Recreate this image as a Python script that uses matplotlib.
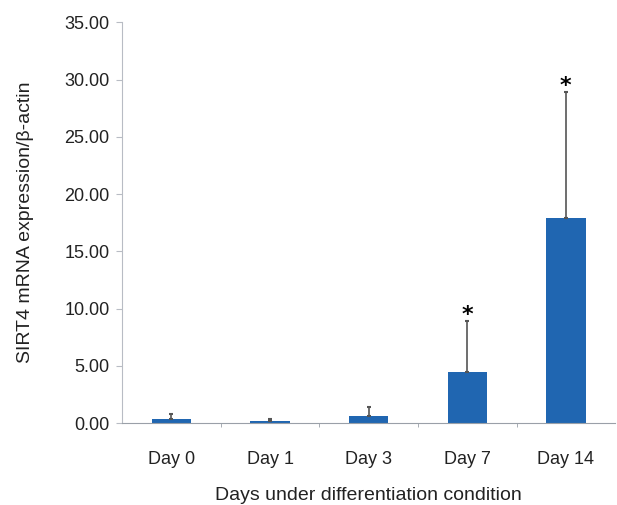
import matplotlib.pyplot as plt
import numpy as np

# data
days = ["Day 0", "Day 1", "Day 3", "Day 7", "Day 14"]
expression = [0.35, 0.2, 0.6, 4.5, 17.9]
upper_err = [0.45, 0.2, 0.8, 4.4, 11.0]
significant = [False, False, False, True, True]

plt.rcParams['font.family'] = ['Liberation Sans', 'DejaVu Sans']

fig = plt.figure(figsize=(6.17, 5.05), dpi=100)
ax = fig.add_axes([0.198, 0.162, 0.799, 0.794])

x = np.arange(len(days))
ax.bar(x, expression, width=0.4, color='#2066b1', zorder=2)
ax.errorbar(x, expression, yerr=[np.zeros(len(days)), upper_err], fmt='none',
            ecolor='#555555', elinewidth=1.2, capsize=1.5, capthick=1.5, zorder=3)

# asterisks over the significant days
for i in range(len(days)):
    if significant[i]:
        ax.text(x[i], expression[i] + upper_err[i] - 0.3, '*', ha='center', va='bottom',
                fontsize=16, fontweight='bold', color='black', family='DejaVu Sans')

ax.set_xlim(-0.5, 4.5)
ax.set_ylim(0, 35)
ax.set_yticks(np.arange(0, 36, 5))
ax.set_yticklabels([f"{v:.2f}" for v in np.arange(0, 36, 5)])
ax.set_xticks(x)
ax.set_xticklabels(days)
ax.set_xticks(np.arange(0.5, 4.5, 1), minor=True)

ax.spines['top'].set_visible(False)
ax.spines['right'].set_visible(False)
ax.spines['left'].set_color('#b8bcc4')
ax.spines['bottom'].set_color('#9aa0a8')

ax.tick_params(axis='y', length=4, color='#b8bcc4', labelsize=13, pad=5, labelcolor='#222222')
ax.tick_params(axis='x', which='major', length=0, labelsize=13, pad=20, labelcolor='#222222')
ax.tick_params(axis='x', which='minor', length=3, color='#9aa0a8')

ax.set_ylabel("SIRT4 mRNA expression/β-actin", fontsize=14, labelpad=22, color='#222222')
ax.set_xlabel("Days under differentiation condition", fontsize=14, labelpad=14, color='#222222')

plt.savefig("out.png", dpi=100)
